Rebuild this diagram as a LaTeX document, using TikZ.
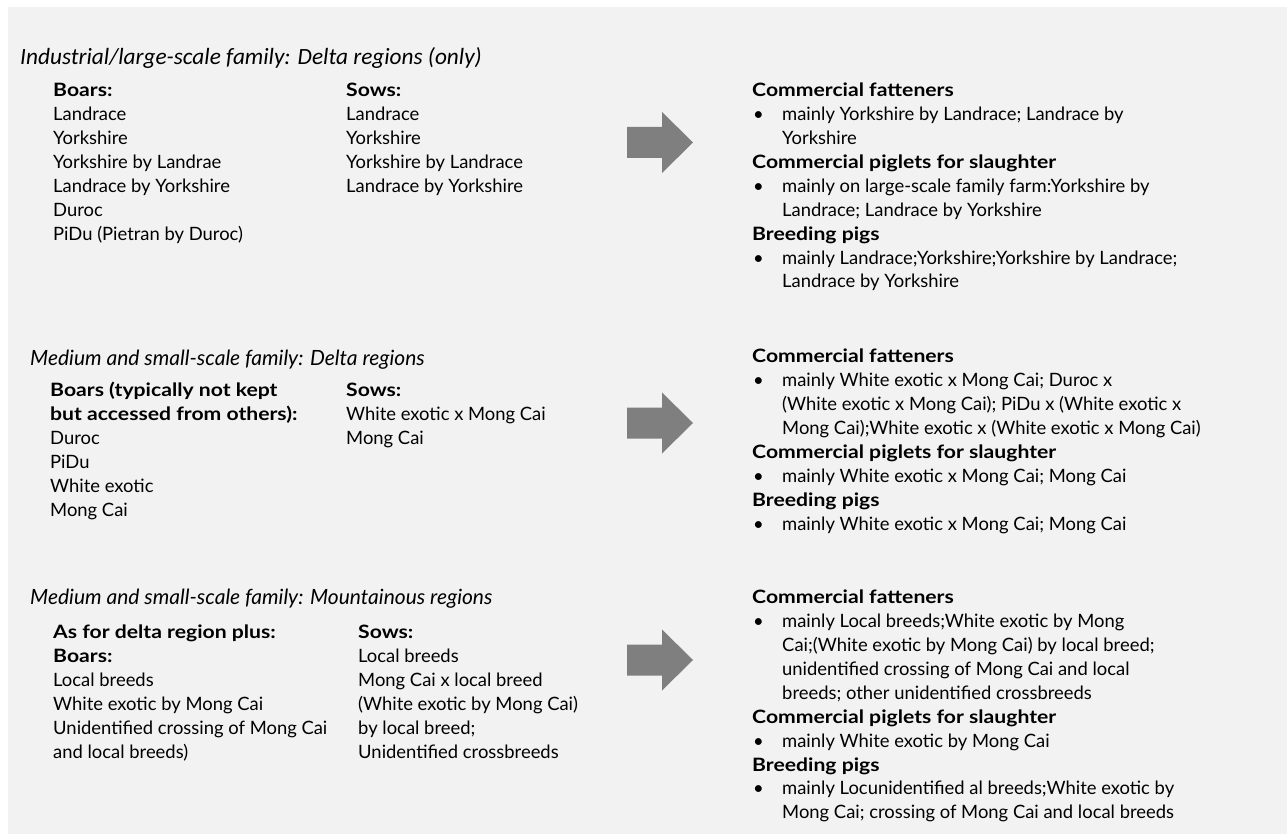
\documentclass[tikz,border=0pt]{standalone}
\usepackage{fontspec}
\setmainfont{Lato}[BoldFeatures={FakeStretch=1.15}]
\newfontfamily\titlefontA{Carlito}
\definecolor{bg}{RGB}{242,242,242}
\definecolor{arrowgray}{RGB}{127,127,127}
\newcommand{\bodysize}{\fontsize{18.4}{23.9}\selectfont}
\newcommand{\bul}{\makebox[30pt][l]{\hspace*{1pt}\textbullet}}
\newcommand{\ind}{\hspace*{30pt}}
\begin{document}
\begin{tikzpicture}[x=1pt,y=-1pt,
  txt/.style={anchor=north west, inner sep=0pt, align=left, font=\bodysize},
  ttl/.style={anchor=base west, inner sep=0pt, font=\fontsize{21}{24}\selectfont\itshape},
  fatarrow/.pic={\fill[arrowgray] (0,-15.5) -- (35,-15.5) -- (35,-30.5) -- (66,0) -- (35,30.5) -- (35,15.5) -- (0,15.5) -- cycle;}]
\useasboundingbox (0,0) rectangle (1287,834);
\fill[bg] (8,7) rectangle (1287,834);

% Section 1
\node[ttl, font=\fontsize{23.3}{26}\selectfont\titlefontA\itshape] (t1) at (20,65) {Industrial/large-scale family: Delta regions (only)};
\node[txt] (b1) at (53,79.8) {\strut\textbf{Boars:}\\Landrace\\Yorkshire\\Yorkshire by Landrae\\Landrace by Yorkshire\\Duroc\\PiDu (Pietran by Duroc)};
\node[txt] (s1) at (346,79.8) {\strut\textbf{Sows:}\\Landrace\\Yorkshire\\Yorkshire by Landrace\\Landrace by Yorkshire};
\pic at (627,142.5) {fatarrow};
\node[txt] (r1) at (752,79.8) {\strut\textbf{Commercial fatteners}\\
\bul mainly Yorkshire by Landrace; Landrace by\\
\ind Yorkshire\\
\textbf{Commercial piglets for slaughter}\\
\bul mainly on large-scale family farm:Yorkshire by\\
\ind Landrace; Landrace by Yorkshire\\
\textbf{Breeding pigs}\\
\bul mainly Landrace;Yorkshire;Yorkshire by Landrace;\\
\ind Landrace by Yorkshire};

% Section 2
\node[ttl] (t2) at (30,365) {Medium and small-scale family: Delta regions};
\node[txt] (b2) at (50,379.8) {\strut\textbf{Boars (typically not kept}\\\textbf{but accessed from others):}\\Duroc\\PiDu\\White exotic\\Mong Cai};
\node[txt] (s2) at (346,379.8) {\strut\textbf{Sows:}\\White exotic x Mong Cai\\Mong Cai};
\pic at (627,423) {fatarrow};
\node[txt] (r2) at (752,345.8) {\strut\textbf{Commercial fatteners}\\
\bul mainly White exotic x Mong Cai; Duroc x\\
\ind (White exotic x Mong Cai); PiDu x (White exotic x\\
\ind Mong Cai);White exotic x (White exotic x Mong Cai)\\
\textbf{Commercial piglets for slaughter}\\
\bul mainly White exotic x Mong Cai; Mong Cai\\
\textbf{Breeding pigs}\\
\bul mainly White exotic x Mong Cai; Mong Cai};

% Section 3
\node[ttl] (t3) at (30,604) {Medium and small-scale family: Mountainous regions};
\node[txt] (b3) at (53,621.8) {\strut\textbf{As for delta region plus:}\\\textbf{Boars:}\\Local breeds\\White exotic by Mong Cai\\Unidentified crossing of Mong Cai\\and local breeds)};
\node[txt] (s3) at (358,621.8) {\strut\textbf{Sows:}\\Local breeds\\Mong Cai x local breed\\(White exotic by Mong Cai)\\by local breed;\\Unidentified crossbreeds};
\pic at (627,660) {fatarrow};
\node[txt] (r3) at (752,586.8) {\strut\textbf{Commercial fatteners}\\
\bul mainly Local breeds;White exotic by Mong\\
\ind Cai;(White exotic by Mong Cai) by local breed;\\
\ind unidentified crossing of Mong Cai and local\\
\ind breeds; other unidentified crossbreeds\\
\textbf{Commercial piglets for slaughter}\\
\bul mainly White exotic by Mong Cai\\
\textbf{Breeding pigs}\\
\bul mainly Locunidentified al breeds;White exotic by\\
\ind Mong Cai; crossing of Mong Cai and local breeds};
\end{tikzpicture}
\end{document}
